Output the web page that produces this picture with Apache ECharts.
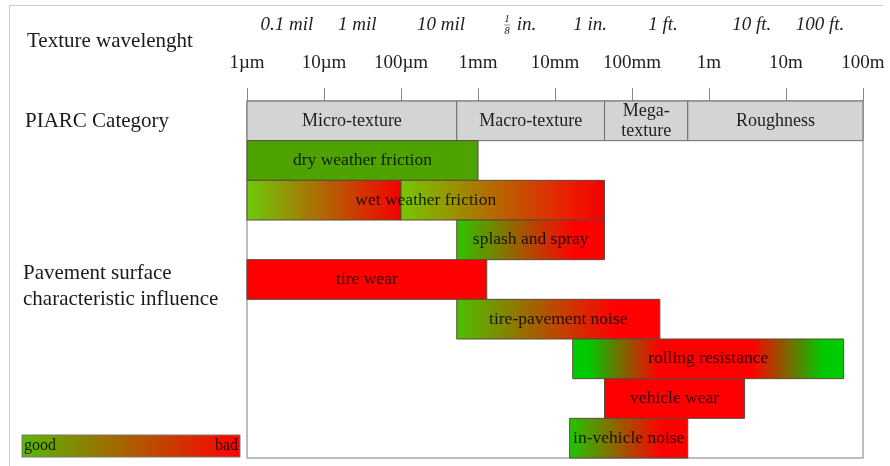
<!DOCTYPE html>
<html><head><meta charset="utf-8">
<script src="https://cdn.jsdelivr.net/npm/echarts@6/dist/echarts.min.js"></script>
<style>html,body{margin:0;padding:0;background:#fff}#c{width:890px;height:466px}</style>
</head><body><div id="c"></div><script>
// ---- data ----
const tickLabels = ['1µm','10µm','100µm','1mm','10mm','100mm','1m','10m','100m'];
const imperialLabels = ['0.1 mil','1 mil','10 mil','⅛ in.','1 in.','1 ft.','10 ft.','100 ft.'];
const imperialValues = [3.3e-6, 2.7e-5, 3.3e-4, 3.5e-3, 2.85e-2, 0.253, 3.6, 27.6];
const categoryNames = ['Micro-texture','Macro-texture','Mega-\ntexture','Roughness'];
const categoryStart = [1e-6, 5.3e-4, 4.4e-2, 0.53];
const categoryEnd   = [5.3e-4, 4.4e-2, 0.53, 100];
const influenceNames = ['dry weather friction','wet weather friction','splash and spray','tire wear',
  'tire-pavement noise','rolling resistance','vehicle wear','in-vehicle noise'];
const influenceStart = [1e-6, 1e-6, 5.3e-4, 1e-6, 5.3e-4, 1.7e-2, 4.4e-2, 1.55e-2];
const influenceEnd   = [1e-3, 4.4e-2, 4.4e-2, 1.3e-3, 0.23, 56, 2.9, 0.53];
const influenceSplit = [null, 1e-4, null, null, null, null, null, null];
const rowNames = ['PIARC Category'].concat(influenceNames);

// ---- styles ----
const FONT = '"Liberation Serif","Times New Roman",serif';
const TXT = 'rgba(0,0,0,0.82)';
const G = (stops) => new echarts.graphic.LinearGradient(0,0,1,0, stops.map(s => ({offset:s[0], color:s[1]})));
const fills = [
  ['#4fa300'],
  [G([[0,'#6ecb08'],[1,'#f50000']]), G([[0,'#74c800'],[0.85,'#ee1800'],[1,'#f20000']])],
  [G([[0,'#30c400'],[0.8,'#ff0000'],[1,'#ff0000']])],
  ['#ff0000'],
  [G([[0,'#4cc000'],[0.78,'#ff0000'],[1,'#ff0000']])],
  [G([[0,'#00cc00'],[0.06,'#00c800'],[0.32,'#ff0000'],[0.66,'#ff0000'],[0.92,'#00c800'],[1,'#00cc00']])],
  ['#ff0000'],
  [G([[0,'#1ec800'],[0.78,'#ff0000'],[1,'#ff0000']])]
];

const chart = echarts.init(document.getElementById('c'), null, {renderer:'canvas'});

function renderCategory(params, api) {
  const i = params.dataIndex;
  const row = api.value(2);
  const c0 = api.coord([api.value(0), row]);
  const x1 = api.coord([api.value(1), row])[0];
  const h = api.size([0,1])[1];
  return {type:'group', children:[
    {type:'rect', shape:{x:c0[0], y:c0[1]-h/2, width:x1-c0[0], height:h},
     style:{fill:'#d2d5d4', stroke:'#6b6b6b', lineWidth:1}},
    {type:'text', style:{text:categoryNames[i], x:(c0[0]+x1)/2, y:c0[1], align:'center',
     verticalAlign:'middle', fontSize:18, fontFamily:FONT, fill:'#1e1e1e', lineHeight:20}}
  ]};
}

function renderBar(params, api) {
  const i = params.dataIndex;
  const s = api.value(0), e = api.value(1), row = api.value(2);
  const c0 = api.coord([s, row]);
  const x1 = api.coord([e, row])[0];
  const h = api.size([0,1])[1];
  const y = c0[1] - h/2;
  const edges = influenceSplit[i] ? [s, influenceSplit[i], e] : [s, e];
  const children = [];
  for (let k = 0; k < edges.length - 1; k++) {
    const a = api.coord([edges[k], row])[0];
    const b = api.coord([edges[k+1], row])[0];
    children.push({type:'rect', shape:{x:a, y:y, width:b-a, height:h},
      style:{fill:fills[i][k], stroke:'#5a4a3a', lineWidth:1}});
  }
  children.push({type:'text', style:{text:influenceNames[i], x:(c0[0]+x1)/2, y:c0[1],
    align:'center', verticalAlign:'middle', fontSize:17.5, fontFamily:FONT, fill:TXT}});
  return {type:'group', children};
}

function renderImperial(params, api) {
  const p = api.coord([api.value(0), 0]);
  const label = imperialLabels[params.dataIndex];
  const base = {fontStyle:'italic', fontFamily:FONT, fill:'#1e1e1e'};
  if (label.charAt(0) === '⅛') {
    const rest = label.slice(1);
    return {type:'group', children:[
      {type:'text', style:Object.assign({text:'1', x:p[0]-13, y:19, align:'center', verticalAlign:'middle', fontSize:11}, base)},
      {type:'line', shape:{x1:p[0]-16, y1:25, x2:p[0]-10, y2:25}, style:{stroke:'#444', lineWidth:0.6}},
      {type:'text', style:Object.assign({text:'8', x:p[0]-13, y:31, align:'center', verticalAlign:'middle', fontSize:11}, base)},
      {type:'text', style:Object.assign({text:rest, x:p[0]-8, y:25, align:'left', verticalAlign:'middle', fontSize:19}, base)}
    ]};
  }
  return {type:'text', style:Object.assign({text:label, x:p[0], y:25,
    align:'center', verticalAlign:'middle', fontSize:19}, base)};
}

chart.setOption({
  animation:false,
  backgroundColor:'#fff',
  grid:{left:247, right:27, top:101, bottom:8, show:true, borderColor:'#a8a8a8', borderWidth:1.5, backgroundColor:'transparent'},
  xAxis:{type:'log', logBase:10, min:1e-6, max:100, interval:1, position:'top',
    axisLine:{show:false}, splitLine:{show:false},
    axisTick:{show:true, length:13, lineStyle:{color:'#888', width:1}},
    axisLabel:{margin:28, fontSize:19, fontFamily:FONT, color:'#1e1e1e',
      formatter:(v) => tickLabels[Math.round(Math.log10(v)) + 6]}},
  yAxis:{type:'category', data:rowNames, inverse:true, show:false},
  series:[
    {type:'custom', renderItem:renderCategory, encode:{x:[0,1], y:2},
      data:categoryNames.map((n,i) => [categoryStart[i], categoryEnd[i], 0])},
    {type:'custom', renderItem:renderBar, encode:{x:[0,1], y:2},
      data:influenceNames.map((n,i) => [influenceStart[i], influenceEnd[i], i+1])},
    {type:'custom', renderItem:renderImperial, clip:false, encode:{x:0, y:1},
      data:imperialValues.map(v => [v, 0])}
  ],
  graphic:[
    {type:'line', shape:{x1:9.5, y1:5.5, x2:883, y2:5.5}, style:{stroke:'#cccccc', lineWidth:1}},
    {type:'line', shape:{x1:9.5, y1:5.5, x2:9.5, y2:466}, style:{stroke:'#cccccc', lineWidth:1}},
    {type:'text', left:27, top:31, style:{text:'Texture wavelenght', fontSize:21, fontFamily:FONT, fill:'#1a1a1a'}},
    {type:'text', left:25, top:111, style:{text:'PIARC Category', fontSize:21, fontFamily:FONT, fill:'#1a1a1a'}},
    {type:'text', left:23, top:260, style:{text:'Pavement surface\ncharacteristic influence', fontSize:21, lineHeight:26, fontFamily:FONT, fill:'#1a1a1a'}},
    {type:'rect', shape:{x:22, y:435, width:218, height:22},
      style:{fill:G([[0,'#5ab800'],[1,'#ff0000']]), stroke:'#777', lineWidth:1}},
    {type:'text', style:{text:'good', x:24, y:446, verticalAlign:'middle', fontSize:16, fontFamily:FONT, fill:TXT}},
    {type:'text', style:{text:'bad', x:238, y:446, align:'right', verticalAlign:'middle', fontSize:16, fontFamily:FONT, fill:TXT}}
  ]
});
</script></body></html>
